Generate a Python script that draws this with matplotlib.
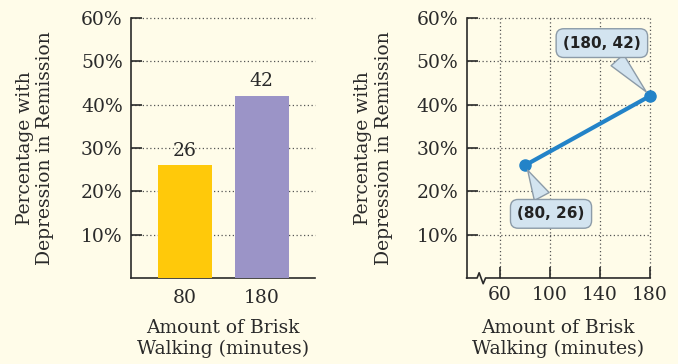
import matplotlib
matplotlib.use("Agg")
import matplotlib.pyplot as plt

# walking time (minutes) and remission rate (%)
minutes = [80, 180]
remission = [26, 42]
bar_colors = ["#FFC90A", "#9B94C7"]
y_ticks = [10, 20, 30, 40, 50, 60]
x_ticks_line = [60, 100, 140, 180]

bg = "#FFFCE9"
ink = "#2A2A2A"
plt.rcParams["font.family"] = ["DejaVu Serif"]
plt.rcParams["font.size"] = 13.5

fig = plt.figure(figsize=(6.78, 3.64), dpi=100, facecolor=bg)
ax1 = fig.add_axes([0.1932, 0.2363, 0.2714, 0.7143], facecolor=bg)
ax2 = fig.add_axes([0.6883, 0.2363, 0.2704, 0.7143], facecolor=bg)

ylabel = "Percentage with\nDepression in Remission"
xlabel = "Amount of Brisk\nWalking (minutes)"


def style_axes(ax, ylab_x):
    for side in ("top", "right"):
        ax.spines[side].set_visible(False)
    for side in ("left", "bottom"):
        ax.spines[side].set_linewidth(1.2)
        ax.spines[side].set_color(ink)
    ax.set_ylim(0, 60)
    ax.set_yticks(y_ticks)
    ax.set_yticklabels([f"{v}%" for v in y_ticks])
    ax.tick_params(axis="y", direction="in", length=8, width=1.2,
                   colors=ink, pad=6)
    ax.grid(axis="y", linestyle=(0, (1, 2)), color="#555555",
            linewidth=0.9, clip_on=False)
    ax.set_axisbelow(True)
    ax.set_ylabel(ylabel, color=ink, linespacing=1.15, va="center")
    ax.yaxis.set_label_coords(ylab_x, 0.5)
    ax.set_xlabel(xlabel, color=ink, linespacing=1.15, va="center")
    ax.xaxis.set_label_coords(0.5, -0.233)


# bar chart
style_axes(ax1, -0.522)
pos = list(range(len(minutes)))
bars = ax1.bar(pos, remission, width=0.70, color=bar_colors, zorder=3)
ax1.bar_label(bars, labels=[str(v) for v in remission], padding=4,
              color=ink, fontsize=13.5)
ax1.set_xlim(-0.70, 1.69)
ax1.set_xticks(pos)
ax1.set_xticklabels([str(m) for m in minutes])
ax1.tick_params(axis="x", length=0, pad=8, colors=ink)

# line chart
style_axes(ax2, -0.508)
ax2.set_xlim(33.3, 180)
ax2.set_xticks(x_ticks_line)
ax2.tick_params(axis="x", direction="in", length=8, width=1.2,
                colors=ink, pad=6)
ax2.grid(axis="x", linestyle=(0, (1, 2)), color="#555555",
         linewidth=0.9, clip_on=False)
ax2.plot(minutes, remission, color="#2383C8", linewidth=3, marker="o",
         markersize=8, zorder=4, clip_on=False)

# broken x axis
ax2.spines["bottom"].set_visible(False)
zx = [0, 0.057, 0.068, 0.090, 0.103, 1.0]
zy = [0, 0, 0.020, -0.022, 0, 0]
ax2.plot(zx, zy, transform=ax2.transAxes, color=ink, linewidth=1.2,
         clip_on=False, zorder=5)

callout = dict(boxstyle="round,pad=0.45,rounding_size=0.5",
               fc="#D3E4F0", ec="#8C9BA8", lw=1.0)
tail = dict(arrowstyle="wedge,tail_width=1.1,shrink_factor=0.5",
            fc="#D3E4F0", ec="#8C9BA8", lw=1.0, shrinkB=4)
label_spots = [(100.8, 14.8), (141.5, 54.2)]
for x, y, (tx, ty) in zip(minutes, remission, label_spots):
    ax2.annotate(f"({x}, {y})", xy=(x, y), xytext=(tx, ty),
                 ha="center", va="center", fontsize=11, fontweight="bold",
                 family="DejaVu Sans", color="#222222",
                 bbox=callout, arrowprops=tail, zorder=6,
                 annotation_clip=False)

fig.savefig("out.png", dpi=100, facecolor=bg)
